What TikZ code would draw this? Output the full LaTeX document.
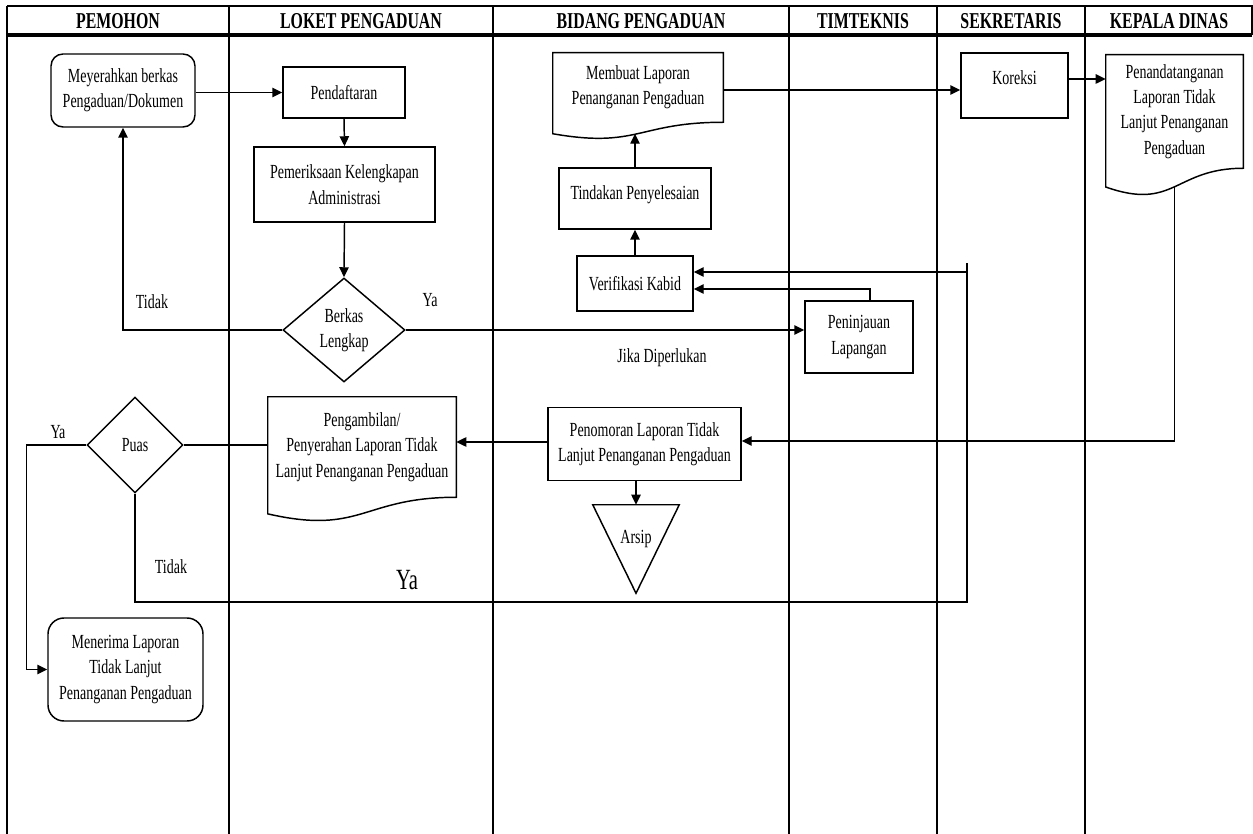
\documentclass[tikz,border=0pt]{standalone}
\usepackage{fontspec}
\setmainfont{Liberation Serif}[FakeStretch=0.7]
\usetikzlibrary{arrows.meta,shapes.geometric,calc}
\newcommand\bodyfs{\fontsize{15}{19}\selectfont}
\newcommand\headfs{\fontsize{17}{20}\selectfont\bfseries}
\newcommand\docshape[1]{\draw[ln] (#1.south west) -- (#1.north west) -- (#1.north east) -- (#1.south east) .. controls (#1.south) and ($(#1.south)!-0.38!(#1.north)$) .. ($(#1.south west)!-0.165!(#1.north west)$) -- cycle;}
\begin{document}
\begin{tikzpicture}[x=0.75pt,y=-0.75pt,
  ln/.style={line width=1.1pt},
  lane/.style={line width=1pt},
  arr/.style={ln,-{Triangle[length=7.5pt,width=7pt]}},
  sz/.style 2 args={minimum width=#1*0.75pt,minimum height=#2*0.75pt},
  box/.style={draw,ln,inner sep=0pt,align=center,font=\bodyfs},
  box1/.style={draw,ln,inner sep=0pt,font=\bodyfs},
  doc/.style={inner sep=0pt,align=center,font=\bodyfs},
  dia/.style={draw,ln,diamond,inner sep=0pt,align=center,font=\bodyfs},
  lbl/.style={inner sep=0pt,font=\bodyfs},
  head/.style={inner sep=0pt,font=\headfs}]
\useasboundingbox (0,0) rectangle (1253,834);
% lanes
\draw[lane] (7,6) -- (1252,6) -- (1252,35);
\draw[line width=2.3pt] (7,35) -- (1252,35);
\foreach \x in {7,229,493,789,937,1085} \draw[lane] (\x,6) -- (\x,834);
\node[head] (h1) at (118,21) {PEMOHON};
\node[head] (h2) at (361,21) {LOKET PENGADUAN};
\node[head] (h3) at (641,21) {BIDANG PENGADUAN};
\node[head] (h4) at (863,21) {TIMTEKNIS};
\node[head] (h5) at (1011,21) {SEKRETARIS};
\node[head] (h6) at (1169,21) {KEPALA DINAS};
% nodes
\node[box,sz={144}{73},rounded corners=9pt] (mey) at (123,90.5) {Meyerahkan berkas\\Pengaduan/Dokumen};
\node[box,sz={122}{51}] (pend) at (344,92.5) {Pendaftaran};
\node[box,sz={181}{75}] (pem) at (344.5,184.5) {Pemeriksaan Kelengkapan\\Administrasi};
\node[dia,sz={122}{104}] (berkas) at (344,330) {Berkas\\Lengkap};
\node[doc,sz={170}{69}] (mb) at (638,87.5) {Membuat Laporan\\Penanganan Pengaduan};
\docshape{mb}
\node[box1,sz={152}{61},text height=10.2pt,text depth=8pt] (tind) at (635,198.5) {Tindakan Penyelesaian};
\node[box,sz={116}{55}] (verif) at (635,283.5) {Verifikasi Kabid};
\node[box,sz={108}{72}] (penin) at (859,337) {Peninjauan\\Lapangan};
\node[box1,sz={107}{65},text height=10pt,text depth=11pt] (kor) at (1014.5,85.5) {Koreksi};
\node[doc,sz={137}{113}] (pen) at (1174.5,111.5) {Penandatanganan\\Laporan Tidak\\Lanjut Penanganan\\Pengaduan};
\docshape{pen}
\node[box,sz={193}{73}] (penom) at (644.5,444) {Penomoran Laporan Tidak\\Lanjut Penanganan Pengaduan};
\node[inner sep=0pt,sz={86}{88},font=\bodyfs,text height=10.2pt,text depth=17.8pt] (arsip) at (636,549) {Arsip};
\draw[ln] (arsip.north west) -- (arsip.north east) -- (arsip.south) -- cycle;
\node[doc,sz={188}{100}] (peng) at (362,447) {Pengambilan/\\Penyerahan Laporan Tidak\\Lanjut Penanganan Pengaduan};
\docshape{peng}
\node[dia,sz={96}{96}] (puas) at (135,445) {Puas};
\node[box,sz={155}{103},rounded corners=12pt] (men) at (125.5,669.5) {Menerima Laporan\\Tidak Lanjut\\Penanganan Pengaduan};
% labels
\node[lbl] (lt1) at (152,302) {Tidak};
\node[lbl] (ly1) at (430,300) {Ya};
\node[lbl] (ljk) at (662,358) {Jika Diperlukan};
\node[lbl] (ly2) at (58,432) {Ya};
\node[lbl] (lt2) at (171,567) {Tidak};
\node[inner sep=0pt,font=\fontsize{22}{24}\selectfont] (ly3) at (407,580) {Ya};
% connectors
\draw[arr] (mey.east |- pend.west) -- (pend.west);
\draw[arr] (pend.south) -- (pem.north);
\draw[arr] (pem.south) -- (berkas.north);
\draw[arr] (berkas.west) -| (mey.south);
\draw[arr] (berkas.east) -- (berkas.east -| penin.west);
\coordinate (mbw) at ($(mb.south)!-0.165!(mb.north)$);
\draw[arr] (tind.north) -- (tind.north |- mbw);
\draw[arr] (verif.north) -- (tind.south);
\coordinate (m1) at ($(mb.east)+(0,2.5)$);
\draw[arr] (m1) -- (m1 -| kor.west);
\coordinate (k1) at ($(kor.east)+(0,-6.5)$);
\draw[arr] (k1) -- (k1 -| pen.west);
\coordinate (pnw) at ($(pen.south)!-0.165!(pen.north)$);
\draw[arr] (pnw) |- ($(penom.east)+(0,-3)$);
\coordinate (p1) at ($(penom.west)+(0,-2)$);
\draw[arr] (p1) -- (p1 -| peng.east);
\draw[arr] (penom.south -| arsip.north) -- (arsip.north);
\draw[ln] (puas.east) -- (puas.east -| peng.west);
\draw[arr] (puas.west) -- ++(-60,0) |- (men.west);
\coordinate (lp) at (967,602);
\coordinate (lq) at (967,272);
\draw[arr] (puas.south) |- (lp) -- (lq) -- (lq -| verif.east);
\draw[ln] (lq) -- ++(0,-9);
\coordinate (pn) at ($(penin.north)+(11,0)$);
\draw[arr] (pn) |- ($(verif.east)+(0,5.5)$);
\end{tikzpicture}
\end{document}
